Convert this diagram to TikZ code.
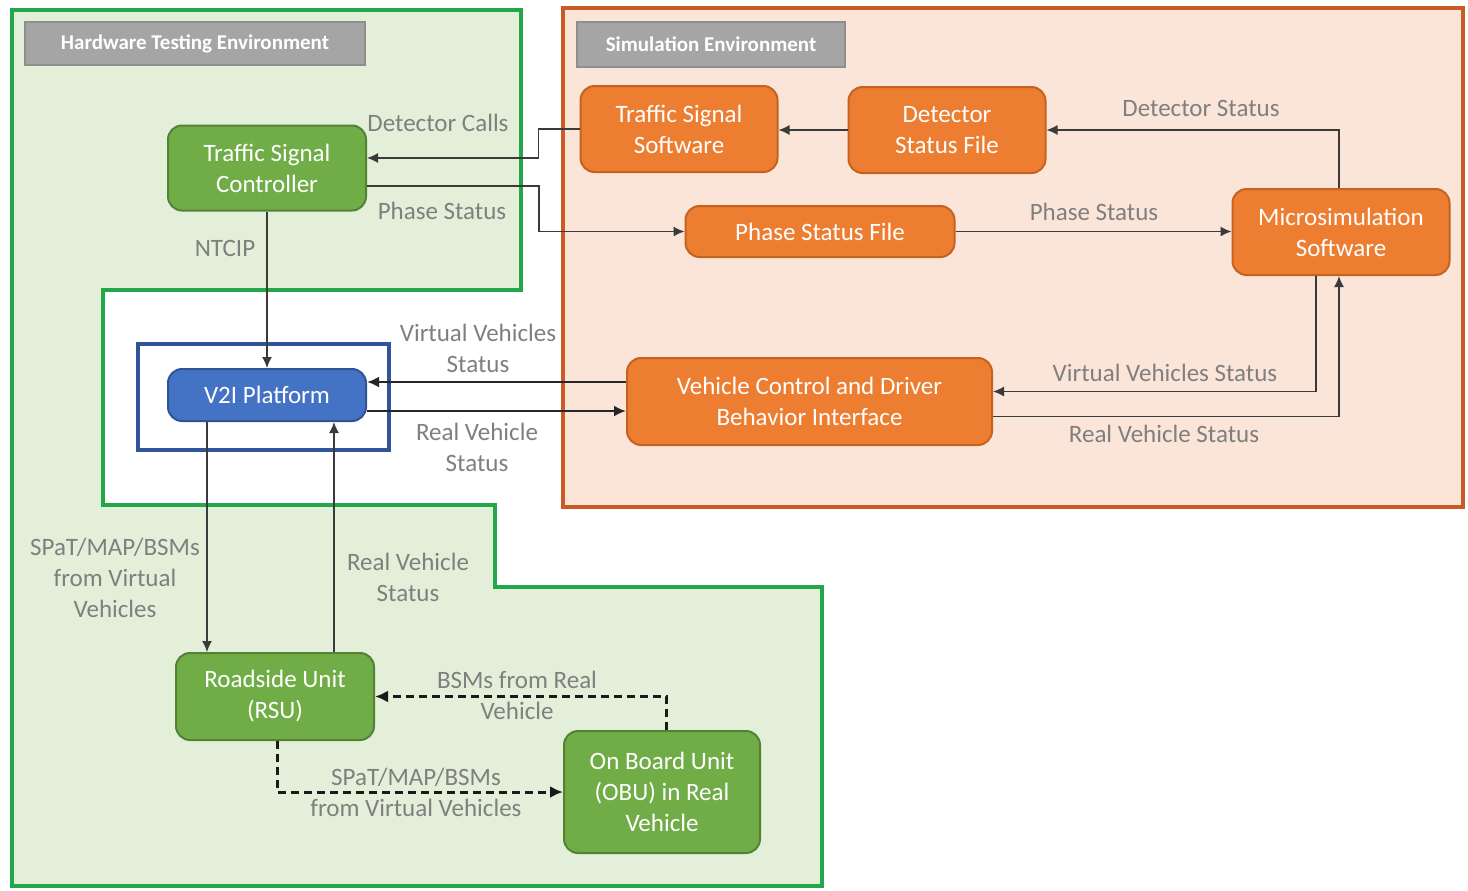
\documentclass[tikz,border=0pt]{standalone}
\usepackage{fontspec}
\setmainfont{Carlito}
\usetikzlibrary{arrows.meta}
\definecolor{gfill}{HTML}{70AD47}
\definecolor{gdraw}{HTML}{548235}
\definecolor{ofill}{HTML}{ED7D31}
\definecolor{odraw}{HTML}{C5621F}
\definecolor{bfill}{HTML}{4472C4}
\definecolor{bdraw}{HTML}{2F5597}
\definecolor{envgreen}{HTML}{E3EFD9}
\definecolor{envgreenline}{HTML}{22A84A}
\definecolor{envpeach}{HTML}{FBE5D8}
\definecolor{envorangeline}{HTML}{CC5A24}
\definecolor{tgray}{HTML}{A5A5A5}
\definecolor{tgraydark}{HTML}{8E8E8E}
\definecolor{labgray}{HTML}{7F7F7F}
\definecolor{linegray}{HTML}{3A3A3A}
\newcommand\lblfont{\fontsize{12.5}{15.5}\selectfont}
\tikzset{
  base/.style={rounded corners=7pt, line width=1pt, align=center, text=white, font=\lblfont, inner sep=0pt},
  gbox/.style={base, fill=gfill, draw=gdraw},
  obox/.style={base, fill=ofill, draw=odraw},
  bbox/.style={base, fill=bfill, draw=bdraw},
  lab/.style={text=labgray, font=\lblfont, align=center, inner sep=0pt},
  arr/.style={draw=linegray, line width=0.7pt, -{Latex[length=5.5pt,width=5pt]}},
  arrthick/.style={draw=black!85, line width=1.3pt, -{Latex[length=6pt,width=5.5pt]}},
  dsh/.style={draw=black!90, line width=1.5pt, dash pattern=on 4pt off 2.5pt, -{Latex[length=6.5pt,width=6pt]}},
  titlebox/.style={fill=tgray, draw=tgraydark, line width=0.8pt, text=white, inner sep=0pt, font=\bfseries\fontsize{10.5}{12}\selectfont}
}
\begin{document}
\begin{tikzpicture}[x=0.5pt,y=-0.5pt]
\fill[white] (0,0) rectangle (1468,890);
\useasboundingbox (0,0) rectangle (1468,890);
% environments
\draw[fill=envgreen, draw=envgreenline, line width=1.6pt]
  (12,10) -- (521,10) -- (521,290) -- (103,290) -- (103,505) -- (495,505) -- (495,587) -- (822,587) -- (822,886) -- (12,886) -- cycle;
\draw[fill=envpeach, draw=envorangeline, line width=1.8pt] (563,8) rectangle (1463,507);
\node[titlebox, minimum width=170pt, minimum height=21.5pt] (hwt) at (195,43.5) {Hardware Testing Environment};
\node[titlebox, minimum width=134pt, minimum height=22.5pt] (simt) at (711,44.5) {Simulation Environment};
% blue outline
\node[draw=bdraw, line width=1.6pt, minimum width=125.5pt, minimum height=53pt, inner sep=0pt] (v2ibox) at (263.5,397) {};
% nodes
\node[gbox, minimum width=99pt, minimum height=42.5pt] (tsc) at (267,168) {Traffic Signal\\Controller};
\node[obox, minimum width=98.5pt, minimum height=43pt] (tss) at (679,129) {Traffic Signal\\Software};
\node[obox, minimum width=98.5pt, minimum height=43pt] (dsf) at (947,130) {Detector\\Status File};
\node[obox, minimum width=134.5pt, minimum height=25.5pt] (psf) at (820,231.5) {Phase Status File};
\node[obox, minimum width=108.5pt, minimum height=43pt] (micro) at (1341,232) {Microsimulation\\Software};
\node[obox, minimum width=182.5pt, minimum height=43.5pt] (vcd) at (809.5,401.5) {Vehicle Control and Driver\\Behavior Interface};
\node[bbox, minimum width=99pt, minimum height=26pt] (v2i) at (267,395) {V2I Platform};
\node[gbox, minimum width=99pt, minimum height=43.5pt] (rsu) at (275,696.5) {Roadside Unit\\(RSU)};
\node[gbox, minimum width=98pt, minimum height=61pt] (obu) at (662,792) {On Board Unit\\(OBU) in Real\\Vehicle};
% labels
\node[lab] (l1) at (438,123) {Detector Calls};
\node[lab] (l2) at (442,211) {Phase Status};
\node[lab] (l3) at (225,248) {NTCIP};
\node[lab] (l4) at (1201,108) {Detector Status};
\node[lab] (l5) at (1094,212) {Phase Status};
\node[lab] (l6) at (1165,373) {Virtual Vehicles Status};
\node[lab] (l7) at (1164,434) {Real Vehicle Status};
\node[lab] (l8) at (478,348.5) {Virtual Vehicles\\Status};
\node[lab] (l9) at (477,447) {Real Vehicle\\Status};
\node[lab] (l10) at (115,578) {SPaT/MAP/BSMs\\from Virtual\\Vehicles};
\node[lab] (l11) at (408,577.5) {Real Vehicle\\Status};
\node[lab] (l12) at (517,695) {BSMs from Real\\Vehicle};
\node[lab] (l13) at (416,792) {SPaT/MAP/BSMs\\from Virtual Vehicles};
% coordinates
\coordinate (tscA) at ([yshift=5pt]tsc.east);
\coordinate (tscB) at ([yshift=-9pt]tsc.east);
\coordinate (vcdA) at ([yshift=5pt]vcd.east);
\coordinate (vcdB) at ([yshift=-7.5pt]vcd.east);
\coordinate (micA) at ([xshift=-12.5pt]micro.south);
\coordinate (micB) at ([xshift=-1pt]micro.south);
\coordinate (v2iA) at ([yshift=6.5pt]v2i.east);
\coordinate (v2iB) at ([yshift=-8pt]v2i.east);
\coordinate (v2iC) at ([xshift=-30pt]v2i.south);
\coordinate (rsuA) at ([xshift=29.5pt]rsu.north);
\coordinate (obuA) at ([xshift=2pt]obu.north);
\coordinate (rsuB) at ([xshift=1pt]rsu.south);
% connectors
\draw[arr] (tss.west) -- ++(-41,0) |- (tscA);
\draw[arr] (tscB) -- ++(172,0) |- (psf.west);
\draw[arr] (dsf.west) -- (dsf.west -| tss.east);
\draw[arr] ([xshift=-1pt]micro.north) |- (dsf.east);
\draw[arr] (psf.east) -- (psf.east -| micro.west);
\draw[arr] (micA) |- (vcdA);
\draw[arr] (vcdB) -| (micB);
\draw[arrthick] (v2iA -| vcd.west) -- (v2iA);
\draw[arrthick] (v2iB) -- (v2iB -| vcd.west);
\draw[arr] (tsc.south) -- (v2i.north);
\draw[arr] (v2iC) -- (v2iC |- rsu.north);
\draw[arr] (rsuA) -- (rsuA |- v2i.south);
\draw[dsh] (obuA) |- (rsu.east);
\draw[dsh] (rsuB) |- (obu.west);
\end{tikzpicture}
\end{document}
